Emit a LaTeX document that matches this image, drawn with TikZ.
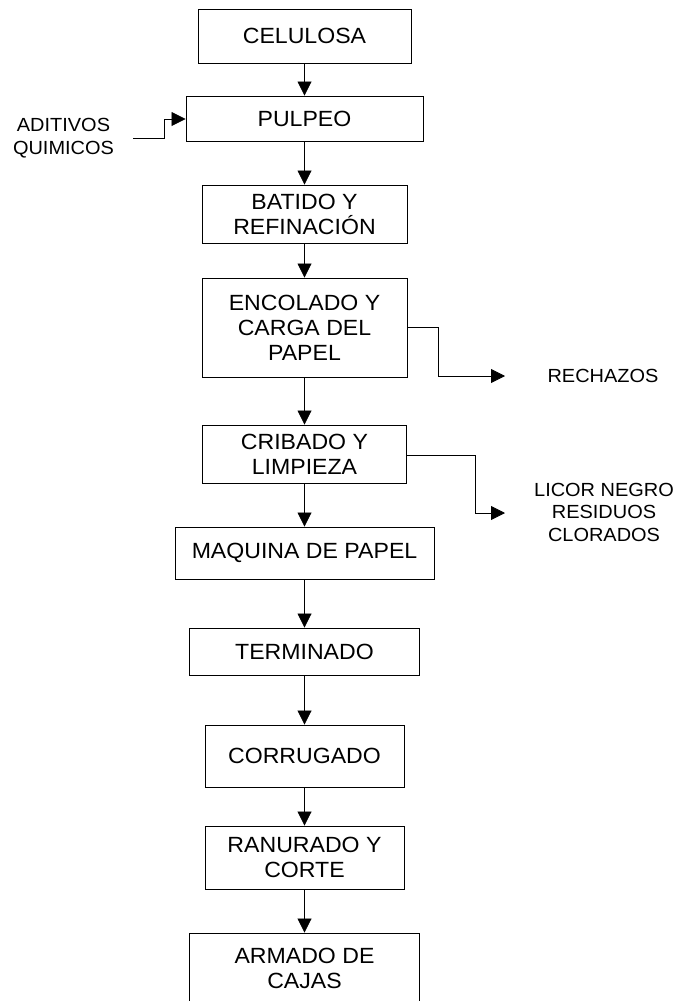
\documentclass[tikz,border=0pt]{standalone}
\usepackage{fontspec}
\setmainfont{Liberation Sans}[FakeStretch=1.05]
\usetikzlibrary{arrows.meta}
\begin{document}
\begin{tikzpicture}[x=1pt,y=-1pt,
  box/.style={draw, line width=0.9pt, align=center, inner sep=0pt,
    font=\fontsize{22}{25}\selectfont},
  side/.style={align=center, inner sep=0pt, font=\fontsize{19}{22.5}\selectfont},
  flow/.style={line width=0.8pt, -{Triangle[length=14pt,width=14pt]}}]
\useasboundingbox (0,0) rectangle (674,1001);
\fill[white] (0,0) rectangle (674,1001);
\node[box, minimum width=213pt, minimum height=54pt] (cel) at (304.5,36) {CELULOSA};
\node[box, minimum width=237pt, minimum height=45pt] (pul) at (304.5,118.5) {PULPEO};
\node[box, minimum width=205pt, minimum height=58pt] (bat) at (304.5,214) {BATIDO Y\\REFINACIÓN};
\node[box, minimum width=205pt, minimum height=99pt] (enc) at (304.5,327.5) {ENCOLADO Y\\CARGA DEL\\PAPEL};
\node[box, minimum width=204pt, minimum height=58pt] (cri) at (304.5,454) {CRIBADO Y\\LIMPIEZA};
\node[box, minimum width=259pt, minimum height=52pt] (maq) at (304.5,553) {MAQUINA DE PAPEL};
\node[box, minimum width=230pt, minimum height=47pt] (ter) at (304.5,651.5) {TERMINADO};
\node[box, minimum width=199pt, minimum height=62pt] (cor) at (304.5,756) {CORRUGADO};
\node[box, minimum width=199pt, minimum height=63pt] (ran) at (304.5,857.5) {RANURADO Y\\CORTE};
\node[box, minimum width=230pt, minimum height=70pt] (arm) at (304.5,968) {ARMADO DE\\CAJAS};
\node[side] (adi) at (63.5,138) {ADITIVOS\\QUIMICOS};
\node[side] (rec) at (603,376) {RECHAZOS};
\node[side] (lic) at (604,512) {LICOR NEGRO\\RESIDUOS\\CLORADOS};
\coordinate (adiS) at (133,138);
\coordinate (recE) at (505,376);
\coordinate (licE) at (505,513);
\draw[flow] (cel) -- (pul);
\draw[flow] (pul) -- (bat);
\draw[flow] (bat) -- (enc);
\draw[flow] (enc) -- (cri);
\draw[flow] (cri) -- (maq);
\draw[flow] (maq) -- (ter);
\draw[flow] (ter) -- (cor);
\draw[flow] (cor) -- (ran);
\draw[flow] (ran) -- (arm);
\draw[flow] (adiS) -- (164,138) -- (164,119) -- (pul.west |- 0,119);
\draw[flow] (enc.east |- 0,327) -- (438,327) -- (438,376) -- (recE);
\draw[flow] (cri.east |- 0,455) -- (475,455) -- (475,513) -- (licE);
\end{tikzpicture}
\end{document}
